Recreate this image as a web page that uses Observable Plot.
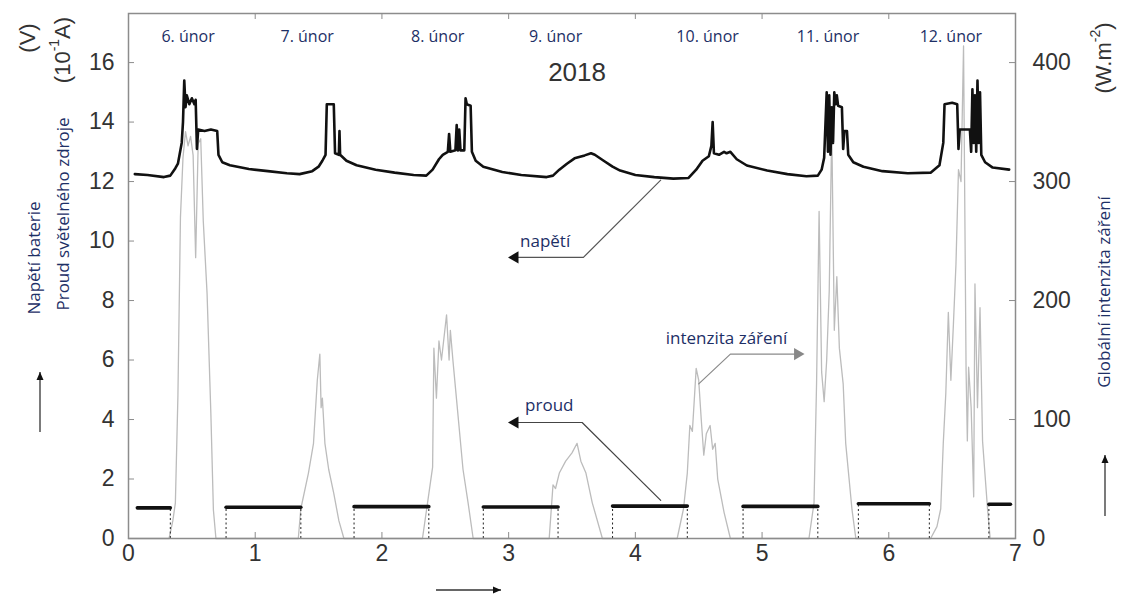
<!DOCTYPE html>
<html><head><meta charset="utf-8">
<script src="https://cdn.jsdelivr.net/npm/d3@7"></script>
<script src="https://cdn.jsdelivr.net/npm/@observablehq/plot@0.6"></script>
<style>
html,body{margin:0;padding:0;background:#fff;}
#chart{width:1122px;height:596px;}
</style></head><body><div id="chart"></div>
<script>
// ---------- DATA ----------
// x axis: days since 6 Feb 2018 00:00
const xTicks = [0,1,2,3,4,5,6,7];
const leftTicks = [0,2,4,6,8,10,12,14,16];          // V / 10^-1 A
const rightTicks = [0,100,200,300,400];             // W.m^-2
const dny = ["6. únor","7. únor","8. únor","9. únor","10. únor","11. únor","12. únor"];
const dnyPos = [0.47,1.41,2.44,3.37,4.57,5.52,6.49];
const rok = "2018";
const rokPos = 3.54;

// battery voltage [day, V]
const napeti = [
[0.05,12.25],[0.15,12.22],[0.28,12.15],[0.33,12.2],[0.37,12.45],[0.39,12.6],[0.42,13.3],[0.43,14.0],[0.44,15.4],[0.45,14.5],[0.46,14.9],[0.48,14.6],[0.50,14.8],[0.52,14.6],[0.53,14.75],[0.54,13.1],[0.55,13.75],[0.60,13.7],[0.65,13.75],[0.70,13.7],[0.71,12.9],[0.74,12.65],[0.80,12.55],[0.95,12.42],[1.10,12.35],[1.25,12.28],[1.35,12.25],[1.45,12.35],[1.50,12.5],[1.53,12.7],[1.555,12.9],[1.565,14.6],[1.62,14.6],[1.63,12.95],[1.66,12.9],[1.665,13.7],[1.67,12.9],[1.72,12.7],[1.80,12.55],[1.95,12.4],[2.10,12.3],[2.25,12.22],[2.35,12.2],[2.40,12.4],[2.45,12.75],[2.48,12.9],[2.52,13.0],[2.53,13.6],[2.54,13.0],[2.58,13.05],[2.59,13.9],[2.60,13.05],[2.61,13.75],[2.62,13.05],[2.65,13.05],[2.66,14.8],[2.67,14.6],[2.70,14.55],[2.71,13.0],[2.74,12.7],[2.80,12.5],[2.95,12.32],[3.10,12.22],[3.30,12.15],[3.35,12.2],[3.40,12.4],[3.46,12.6],[3.52,12.78],[3.60,12.88],[3.65,12.95],[3.68,12.9],[3.75,12.7],[3.82,12.5],[3.88,12.37],[4.00,12.22],[4.15,12.15],[4.30,12.1],[4.42,12.12],[4.48,12.4],[4.53,12.7],[4.58,12.85],[4.60,13.2],[4.61,14.0],[4.62,12.95],[4.66,12.9],[4.70,13.0],[4.72,12.95],[4.75,13.0],[4.80,12.75],[4.88,12.54],[5.04,12.37],[5.20,12.25],[5.35,12.18],[5.44,12.2],[5.47,12.4],[5.49,12.8],[5.51,15.0],[5.52,13.0],[5.53,14.9],[5.54,12.9],[5.55,14.5],[5.56,13.3],[5.57,15.0],[5.58,14.6],[5.59,14.9],[5.60,14.55],[5.63,14.5],[5.64,13.1],[5.65,13.7],[5.67,13.7],[5.68,12.9],[5.72,12.65],[5.80,12.5],[5.95,12.35],[6.15,12.28],[6.33,12.3],[6.40,12.55],[6.43,13.3],[6.44,14.6],[6.50,14.65],[6.54,14.6],[6.55,13.1],[6.56,13.75],[6.64,13.75],[6.65,13.0],[6.66,15.1],[6.67,13.3],[6.68,14.9],[6.69,13.0],[6.70,15.4],[6.71,13.3],[6.72,15.0],[6.73,12.9],[6.76,12.65],[6.82,12.47],[6.95,12.4]
];

// light source current: night segments [start, end] and level (10^-1 A)
const proudUseky = [[0.07,0.33],[0.77,1.36],[1.78,2.37],[2.80,3.39],[3.82,4.41],[4.85,5.44],[5.76,6.32],[6.79,6.96]];
const proudHladiny = [1.03,1.05,1.07,1.06,1.09,1.08,1.17,1.15];

// global irradiance [day, W.m^-2]
const zareni = [
[0.00,0],[0.32,0],[0.35,15],[0.37,30],[0.39,120],[0.41,270],[0.43,320],[0.45,342],[0.47,330],[0.49,338],[0.51,322],[0.53,236],[0.55,332],[0.57,336],[0.59,267],[0.62,206],[0.65,105],[0.67,24],[0.69,0],
[1.34,0],[1.36,25],[1.42,55],[1.46,80],[1.49,133],[1.51,155],[1.52,110],[1.53,118],[1.55,80],[1.58,58],[1.62,38],[1.66,15],[1.70,0],
[2.32,0],[2.36,30],[2.40,60],[2.41,160],[2.43,118],[2.45,166],[2.47,150],[2.51,188],[2.53,150],[2.54,175],[2.56,150],[2.58,127],[2.64,58],[2.68,30],[2.72,0],
[3.32,0],[3.35,45],[3.37,42],[3.40,55],[3.45,65],[3.50,72],[3.54,80],[3.57,65],[3.61,55],[3.66,30],[3.74,0],
[4.33,0],[4.38,25],[4.41,55],[4.43,95],[4.45,90],[4.48,143],[4.50,133],[4.52,100],[4.54,70],[4.56,88],[4.59,95],[4.61,75],[4.63,80],[4.65,50],[4.70,22],[4.75,0],
[5.37,0],[5.41,30],[5.43,130],[5.45,275],[5.47,140],[5.49,115],[5.51,150],[5.53,208],[5.55,345],[5.57,175],[5.59,220],[5.61,160],[5.64,130],[5.66,80],[5.71,24],[5.74,0],
[6.33,0],[6.38,10],[6.41,25],[6.43,80],[6.45,122],[6.47,190],[6.49,133],[6.51,180],[6.53,230],[6.55,310],[6.57,300],[6.59,414],[6.61,141],[6.62,82],[6.63,144],[6.65,110],[6.67,35],[6.68,214],[6.70,110],[6.72,194],[6.74,82],[6.78,24],[6.80,0],[7.00,0]
];

// annotation leaders (left-axis units, except zareni leader in W.m^-2)
const napetiPopis = {text:"napětí", x:3.09, y:10.0};
const napetiSipka = [[4.20,12.05],[3.59,9.45],[3.05,9.45]];
const proudPopis = {text:"proud", x:3.13, y:4.47};
const proudSipka = [[4.20,1.28],[3.58,3.9],[3.05,3.9]];
const zareniPopis = {text:"intenzita záření", x:4.24, y:168};
const zareniSipka = [[4.50,130],[4.75,155],[5.28,155]];

// ---------- BUILD ----------
const K = 400/16; // right axis units per left axis unit
const voltRows = napeti.map(([x,y]) => ({x, y}));
const irrRows = zareni.map(([x,w]) => ({x, y: w/K}));
const proudRows = proudUseky.flatMap(([a,b],i) => [{x:a, y:proudHladiny[i], seg:i},{x:b, y:proudHladiny[i], seg:i}]);
const dotRows = proudUseky.flatMap(([a,b],i) => {
  const r = [];
  if (i > 0) r.push({x:a, y:proudHladiny[i]});
  if (i < proudUseky.length-1) r.push({x:b, y:proudHladiny[i]});
  return r;
});
const toRows = (arr, k=1) => arr.map(([x,y]) => ({x, y:y/k}));
const napSip = toRows(napetiSipka), prSip = toRows(proudSipka), zaSip = toRows(zareniSipka, K);
const annot = [
  {...napetiPopis},
  {...proudPopis},
  {text: zareniPopis.text, x: zareniPopis.x, y: zareniPopis.y/K}
];
const navy = "#1d2f66";
const cz = "'Open Sans', sans-serif";

const chart = Plot.plot({
  width: 1122, height: 596,
  marginLeft: 128, marginRight: 107, marginTop: 13, marginBottom: 58,
  x: {domain: [0,7]},
  y: {domain: [0, 17.65]},
  style: {fontFamily: "'Liberation Sans', Arial, sans-serif", background: "#fff", color: "#333"},
  marks: [
    Plot.line(irrRows, {x:"x", y:"y", stroke:"#bcbcbc", strokeWidth:1.3}),
    Plot.ruleX(dotRows, {x:"x", y1:0, y2:"y", stroke:"#222", strokeWidth:1, strokeDasharray:"2,2.5"}),
    Plot.line(proudRows, {x:"x", y:"y", z:"seg", stroke:"#111", strokeWidth:3.6}),
    Plot.line(voltRows, {x:"x", y:"y", stroke:"#111", strokeWidth:2.6, strokeLinejoin:"round"}),
    // leaders
    Plot.line(napSip, {x:"x", y:"y", stroke:"#555", strokeWidth:1.2}),
    Plot.line(prSip, {x:"x", y:"y", stroke:"#444", strokeWidth:1.2}),
    Plot.line(zaSip, {x:"x", y:"y", stroke:"#8a8a8a", strokeWidth:1.2}),
    Plot.dot([napSip[2], prSip[2]], {x:"x", y:"y", symbol:"triangle", r:4.5, fill:"#111", stroke:null, rotate:-90}),
    Plot.dot([zaSip[2]], {x:"x", y:"y", symbol:"triangle", r:4.5, fill:"#888", stroke:null, rotate:90}),
    Plot.text(annot, {x:"x", y:"y", text:"text", textAnchor:"start", fontSize:17, fontFamily:cz, fill:navy}),
    // frame & ticks
    Plot.frame({stroke:"#8c8c8c", strokeWidth:1.5}),
    Plot.ruleX(xTicks, {stroke:"#8c8c8c", insetTop:519}),
    Plot.ruleX(xTicks, {stroke:"#8c8c8c", insetBottom:519}),
    Plot.ruleY(leftTicks, {stroke:"#8c8c8c", insetRight:881}),
    Plot.ruleY(rightTicks.map(d => d/K), {stroke:"#8c8c8c", insetLeft:881}),
    Plot.axisX({ticks:xTicks, tickFormat:d3.format("d"), tickSize:0, tickPadding:6, fontSize:23, label:null, color:"#333"}),
    Plot.axisY({anchor:"left", ticks:leftTicks, tickFormat:d3.format("d"), tickSize:0, tickPadding:14, fontSize:23, label:null, color:"#333"}),
    Plot.axisY({anchor:"right", ticks:rightTicks.map(d => d/K), tickFormat:d => Math.round(d*K), tickSize:0, tickPadding:17, fontSize:23, label:null, color:"#333"}),
    // top labels
    Plot.text(dny, {x:(d,i) => dnyPos[i], text:d => d, frameAnchor:"top", dy:17, fontSize:16, fontFamily:cz, fill:navy}),
    Plot.text([rok], {x:() => rokPos, text:d => d, frameAnchor:"top", dy:49, fontSize:26, fill:"#333"})
  ]
});
document.getElementById("chart").appendChild(chart);

// side titles and direction arrows
const svg = d3.select(chart);
const g = svg.append("g");
function vlabel(x, y, size, fill, family, parts) {
  const t = g.append("text")
    .attr("transform", `translate(${x},${y}) rotate(-90)`)
    .attr("text-anchor", "middle").attr("dominant-baseline", "central")
    .attr("font-size", size).attr("font-family", family).attr("fill", fill);
  parts.forEach(p => {
    const ts = t.append("tspan").text(p.t);
    if (p.dy) ts.attr("dy", p.dy);
    if (p.size) ts.attr("font-size", p.size);
  });
}
const ar = "'Liberation Sans', Arial, sans-serif";
vlabel(27, 38, 22, "#333", ar, [{t:"(V)"}]);
vlabel(62, 50, 22, "#333", ar, [{t:"(10"},{t:"-1", dy:-8, size:14},{t:"A)", dy:8, size:22}]);
vlabel(33, 258, 17, navy, cz, [{t:"Napětí baterie"}]);
vlabel(62, 214, 17, navy, cz, [{t:"Proud světelného zdroje"}]);
vlabel(1103, 58, 22, "#333", ar, [{t:"(W.m"},{t:"-2", dy:-8, size:14},{t:")", dy:8, size:22}]);
vlabel(1103, 292, 17, navy, cz, [{t:"Globální intenzita záření"}]);
function arrow(x1, y1, x2, y2) {
  g.append("line").attr("x1",x1).attr("y1",y1).attr("x2",x2).attr("y2",y2).attr("stroke","#333").attr("stroke-width",1.3);
  const a = Math.atan2(y2-y1, x2-x1), L = 8, W = 3.5;
  const bx = x2 - L*Math.cos(a), by = y2 - L*Math.sin(a);
  const px = -Math.sin(a)*W, py = Math.cos(a)*W;
  g.append("path").attr("d", `M${x2},${y2}L${bx+px},${by+py}L${bx-px},${by-py}Z`).attr("fill","#111");
}
arrow(40, 432, 40, 372);
arrow(1105, 516, 1105, 455);
arrow(436, 590, 501, 590);
</script></body></html>
